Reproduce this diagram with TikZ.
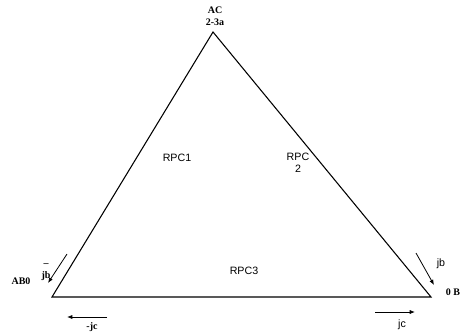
\documentclass[tikz,border=0pt]{standalone}
\usepackage{fontspec}
\setmainfont{Liberation Serif}
\newfontfamily\arialfont{Liberation Sans}
\usetikzlibrary{arrows.meta}

\begin{document}
\begin{tikzpicture}[x=0.75pt,y=-0.75pt,
  side/.style={draw=black,line width=0.8pt},
  arr/.style={-{Latex[length=1.4mm,width=1.1mm]},line width=0.6pt},
  rlab/.style={font=\arialfont\fontsize{8}{9}\selectfont,align=center,inner sep=0pt},
  vlab/.style={font=\bfseries\fontsize{7.5}{9}\selectfont,align=center,inner sep=0pt}]
\useasboundingbox (0,0) rectangle (463,333);
% vertices
\coordinate (top) at (213,32);
\coordinate (left) at (52,297);
\coordinate (right) at (431,297);
\draw[side] (left)--(top)--(right)--cycle;
% vertex labels
\node[vlab] (ac) at (215,16) {AC\\2-3a};
\node[vlab] (ab) at (21,281) {AB0};
\node[vlab] (ob) at (453,292) {0 B};
% region labels
\node[rlab] (rpc1) at (177,158) {RPC1};
\node[rlab] (rpc2) at (298,163) {RPC\\2};
\node[rlab] (rpc3) at (244,271) {RPC3};
% currents
\coordinate (jb1s) at (67,254); \coordinate (jb1e) at (48,283);
\draw[arr] (jb1s)--(jb1e);
\node[vlab] (jb1) at (46,272) {--\\jb};
\coordinate (jb2s) at (416,253); \coordinate (jb2e) at (434,285);
\draw[arr] (jb2s)--(jb2e);
\node[rlab] (jb2) at (441,264) {jb};
\coordinate (jc1s) at (107,317); \coordinate (jc1e) at (67,317);
\draw[arr] (jc1s)--(jc1e);
\node[vlab] (jc1) at (92,327) {-jc};
\coordinate (jc2s) at (375,312); \coordinate (jc2e) at (415,312);
\draw[arr] (jc2s)--(jc2e);
\node[rlab] (jc2) at (402,325) {jc};
\end{tikzpicture}
\end{document}
